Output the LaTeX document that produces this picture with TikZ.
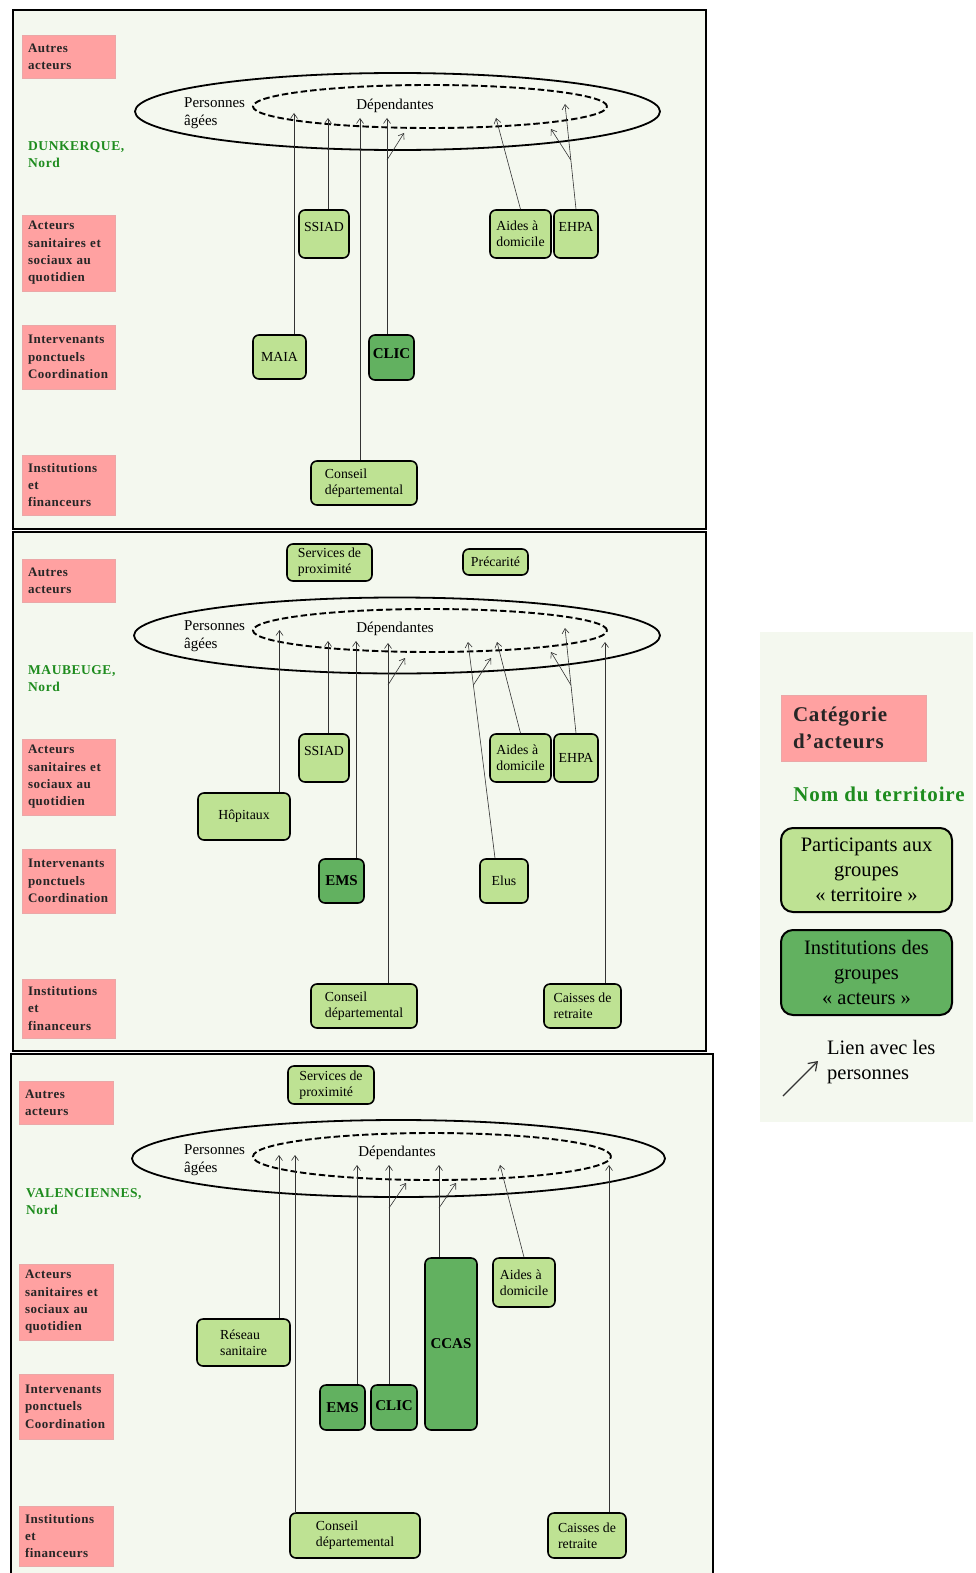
\documentclass[tikz,border=0pt]{standalone}
\usepackage{fontspec}
\setmainfont{Liberation Serif}
\newfontfamily\catfont[LetterSpace=4]{Liberation Serif}
\usetikzlibrary{arrows.meta,shapes.geometric,calc}
\definecolor{panelbg}{HTML}{F4F8EF}
\definecolor{pinkc}{HTML}{FFA1A1}
\definecolor{pinkb}{HTML}{EBA7A7}
\definecolor{lgreen}{HTML}{BEE293}
\definecolor{dgreen}{HTML}{62B160}
\definecolor{tgreen}{HTML}{1E8C1E}
\definecolor{linec}{HTML}{333333}
\tikzset{
  panel/.style={draw=black,line width=1.4pt,fill=panelbg},
  cat/.style={fill=pinkc,draw=pinkb,line width=0.8pt,inner xsep=6pt,inner ysep=0pt,
    text width=81pt,align=left,text=black!85,
    font=\catfont\bfseries\fontsize{13}{17.3}\selectfont},
  terr/.style={anchor=west,inner sep=0pt,align=left,text=tgreen,
    font=\catfont\bfseries\fontsize{13.5}{17}\selectfont},
  lg/.style={draw=black,line width=1.6pt,rounded corners=6pt,fill=lgreen,
    inner sep=1pt,align=left,font=\fontsize{13.8}{16}\selectfont},
  dg/.style={lg,fill=dgreen,font=\bfseries\fontsize{15}{16}\selectfont},
  outerell/.style={draw=black,ellipse,line width=1.8pt,inner sep=0pt},
  innerell/.style={draw=black,ellipse,line width=1.9pt,inner sep=0pt,dash pattern=on 6.5pt off 3pt},
  pa/.style={inner sep=0pt,align=left,font=\fontsize{15}{18}\selectfont},
  lk/.style={draw=linec,line width=0.6pt,-{Straight Barb[length=5pt,width=7pt]}}
}
\begin{document}
\begin{tikzpicture}[x=1pt,y=-1pt]
\useasboundingbox (0,0) rectangle (976,1573);
\fill[white] (0,0) rectangle (976,1573);

% ---------------- panels
\draw[panel] (13,10) rectangle (706,529);
\draw[panel] (13,532) rectangle (706,1051);
\draw[panel] (11,1054) rectangle (713,1590);
\fill[panelbg] (760,632) rectangle (973,1122);

% ================= PANEL 1 : DUNKERQUE
\node[cat,minimum height=43] (c1a) at (68.5,56.5) {Autres\\acteurs};
\node[cat,minimum height=76] (c1b) at (68.5,253) {Acteurs\\sanitaires et\\sociaux au\\quotidien};
\node[cat,minimum height=64] (c1c) at (68.5,357) {Intervenants\\ponctuels\\Coordination};
\node[cat,minimum height=60] (c1d) at (68.5,485) {Institutions\\et\\financeurs};
\node[terr] (t1) at (28,154.5) {DUNKERQUE,\\Nord};

\node[outerell,minimum width=525,minimum height=77] (pa1) at (397.5,111.5) {};
\node[innerell,minimum width=354,minimum height=43] (dep1) at (430,106.5) {};
\node[pa,anchor=west] (pat1) at (184,113) {Personnes\\âgées};
\node[pa] (dept1) at (395,106) {Dépendantes};

\node[lg,minimum width=50,minimum height=48] (ssiad1) at (324,234) {\raisebox{14pt}{SSIAD}};
\node[lg,minimum width=61,minimum height=48] (aides1) at (520.5,234) {Aides à\\domicile};
\node[lg,minimum width=44,minimum height=48] (ehpa1) at (576,234) {\raisebox{14pt}{EHPA}};
\node[lg,minimum width=53,minimum height=44] (maia1) at (279.5,357) {MAIA};
\node[dg,minimum width=45,minimum height=45] (clic1) at (391.5,357.5) {\raisebox{8pt}{CLIC}};
\node[lg,minimum width=106,minimum height=44] (cons1) at (364,483) {Conseil\\départemental};

\coordinate (k1a) at (294,113);
\coordinate (k1b) at (328,118);
\coordinate (k1c) at (360,118);
\coordinate (k1d) at (387,118);
\coordinate (k1d0) at (387,160);
\coordinate (k1d1) at (404,133);
\coordinate (k1e) at (496,118);
\coordinate (k1f) at (565,104);
\coordinate (k1f0) at (570.8,160);
\coordinate (k1f1) at (551,129);
\draw[lk] (maia1.north -| k1a) -- (k1a);
\draw[lk] (ssiad1.north -| k1b) -- (k1b);
\draw[lk] (cons1.north -| k1c) -- (k1c);
\draw[lk] (clic1.north -| k1d) -- (k1d);
\draw[lk] (k1d0) -- (k1d1);
\draw[lk] (aides1.north) -- (k1e);
\draw[lk] (ehpa1.north) -- (k1f);
\draw[lk] (k1f0) -- (k1f1);

% ================= PANEL 2 : MAUBEUGE
\node[cat,minimum height=43] (c2a) at (68.5,580.5) {Autres\\acteurs};
\node[cat,minimum height=76] (c2b) at (68.5,777) {Acteurs\\sanitaires et\\sociaux au\\quotidien};
\node[cat,minimum height=64] (c2c) at (68.5,881) {Intervenants\\ponctuels\\Coordination};
\node[cat,minimum height=59] (c2d) at (68.5,1008.5) {Institutions\\et\\financeurs};
\node[terr] (t2) at (28,678.5) {MAUBEUGE,\\Nord};

\node[outerell,minimum width=526,minimum height=76] (pa2) at (397,635.5) {};
\node[innerell,minimum width=354,minimum height=43] (dep2) at (430,630.5) {};
\node[pa,anchor=west] (pat2) at (184,636.5) {Personnes\\âgées};
\node[pa] (dept2) at (395,629) {Dépendantes};

\node[lg,minimum width=85,minimum height=37] (serv2) at (329.5,562.5) {Services de\\proximité};
\node[lg,minimum width=65,minimum height=26] (prec2) at (495.5,562) {Précarité};
\node[lg,minimum width=50,minimum height=48] (ssiad2) at (324,758) {\raisebox{14pt}{SSIAD}};
\node[lg,minimum width=61,minimum height=48] (aides2) at (520.5,758) {Aides à\\domicile};
\node[lg,minimum width=44,minimum height=48] (ehpa2) at (576,758) {EHPA};
\node[lg,minimum width=92,minimum height=47] (hop2) at (244,816.5) {Hôpitaux};
\node[dg,minimum width=45,minimum height=44] (ems2) at (341.5,881) {EMS};
\node[lg,minimum width=48,minimum height=44] (elus2) at (504,881) {Elus};
\node[lg,minimum width=106,minimum height=44] (cons2) at (364,1006) {Conseil\\départemental};
\node[lg,minimum width=77,minimum height=44] (caiss2) at (582.5,1006) {Caisses de\\retraite};

\coordinate (k2a) at (279.5,630);
\coordinate (k2b) at (328,641);
\coordinate (k2c) at (356,641);
\coordinate (k2d) at (388,643);
\coordinate (k2d0) at (388,685);
\coordinate (k2d1) at (405,658);
\coordinate (k2e) at (468,642);
\coordinate (k2e0) at (473.4,685);
\coordinate (k2e1) at (491,658);
\coordinate (k2f) at (497,642);
\coordinate (k2g) at (565,628);
\coordinate (k2g0) at (570.9,685);
\coordinate (k2g1) at (551,652);
\coordinate (k2h) at (605,642);
\draw[lk] (hop2.north -| k2a) -- (k2a);
\draw[lk] (ssiad2.north -| k2b) -- (k2b);
\draw[lk] (ems2.north -| k2c) -- (k2c);
\draw[lk] (cons2.north -| k2d) -- (k2d);
\draw[lk] (k2d0) -- (k2d1);
\draw[lk] ($(elus2.north)+(-9,0)$) -- (k2e);
\draw[lk] (k2e0) -- (k2e1);
\draw[lk] (aides2.north) -- (k2f);
\draw[lk] (ehpa2.north) -- (k2g);
\draw[lk] (k2g0) -- (k2g1);
\draw[lk] (caiss2.north -| k2h) -- (k2h);

% ================= PANEL 3 : VALENCIENNES
\node[cat,minimum height=43,text width=82pt] (c3a) at (66,1102.5) {Autres\\acteurs};
\node[cat,minimum height=76,text width=82pt] (c3b) at (66,1302) {Acteurs\\sanitaires et\\sociaux au\\quotidien};
\node[cat,minimum height=65,text width=82pt] (c3c) at (66,1406.5) {Intervenants\\ponctuels\\Coordination};
\node[cat,minimum height=60,text width=82pt] (c3d) at (66,1536) {Institutions\\et\\financeurs};
\node[terr] (t3) at (26,1202) {VALENCIENNES,\\Nord};

\node[outerell,minimum width=533,minimum height=77] (pa3) at (398.5,1158.5) {};
\node[innerell,minimum width=358,minimum height=47] (dep3) at (432,1156.5) {};
\node[pa,anchor=west] (pat3) at (184,1160) {Personnes\\âgées};
\node[pa] (dept3) at (397,1153) {Dépendantes};

\node[lg,minimum width=86,minimum height=38] (serv3) at (331,1085) {Services de\\proximité};
\node[lg,minimum width=93,minimum height=47] (res3) at (243.5,1342.5) {Réseau\\sanitaire};
\node[dg,minimum width=45,minimum height=45] (ems3) at (342.5,1407.5) {EMS};
\node[dg,minimum width=46,minimum height=45] (clic3) at (394,1407.5) {\raisebox{4pt}{CLIC}};
\node[dg,minimum width=52,minimum height=172] (ccas3) at (451,1344) {CCAS};
\node[lg,minimum width=62,minimum height=49] (aides3) at (524,1282.5) {Aides à\\domicile};
\node[lg,minimum width=130,minimum height=45] (cons3) at (355,1535.5) {Conseil\\départemental};
\node[lg,minimum width=78,minimum height=45] (caiss3) at (587,1535.5) {Caisses de\\retraite};

\coordinate (k3a) at (279,1155);
\coordinate (k3b) at (295,1155);
\coordinate (k3c) at (357,1165);
\coordinate (k3d) at (389,1165);
\coordinate (k3d0) at (389,1208);
\coordinate (k3d1) at (406,1183);
\coordinate (k3e) at (439,1165);
\coordinate (k3e0) at (439,1208);
\coordinate (k3e1) at (456,1183);
\coordinate (k3f) at (500,1165);
\coordinate (k3g) at (609,1165);
\draw[lk] (res3.north -| k3a) -- (k3a);
\draw[lk] (cons3.north -| k3b) -- (k3b);
\draw[lk] (ems3.north -| k3c) -- (k3c);
\draw[lk] (clic3.north -| k3d) -- (k3d);
\draw[lk] (k3d0) -- (k3d1);
\draw[lk] (ccas3.north -| k3e) -- (k3e);
\draw[lk] (k3e0) -- (k3e1);
\draw[lk] (aides3.north) -- (k3f);
\draw[lk] (caiss3.north -| k3g) -- (k3g);

% ================= LEGEND
\node[cat,inner xsep=12pt,text width=121pt,minimum height=66,
  font=\catfont\bfseries\fontsize{21}{27}\selectfont] (lcat) at (853.5,728) {Catégorie\\d’acteurs};
\node[inner sep=0pt,text=tgreen,font=\catfont\bfseries\fontsize{21}{25}\selectfont] (lterr) at (879,794) {Nom du territoire};
\node[lg,align=center,minimum width=171,minimum height=84,rounded corners=12pt,line width=2pt,
  font=\fontsize{20.5}{25}\selectfont] (lpart) at (866.5,870) {Participants aux\\groupes\\«~territoire~»};
\node[lg,align=center,fill=dgreen,minimum width=171,minimum height=85,rounded corners=12pt,line width=2pt,
  font=\fontsize{20.5}{25}\selectfont] (linst) at (866.5,972.5) {Institutions des\\groupes\\«~acteurs~»};
\coordinate (la0) at (783,1096);
\coordinate (la1) at (818,1061);
\draw[lk,line width=1.2pt,-{Straight Barb[length=8pt,width=11pt]}] (la0) -- (la1);
\node[anchor=west,inner sep=0pt,align=left,font=\fontsize{20.5}{25}\selectfont] (llien) at (827,1062.5) {Lien avec les\\personnes};
\end{tikzpicture}
\end{document}
